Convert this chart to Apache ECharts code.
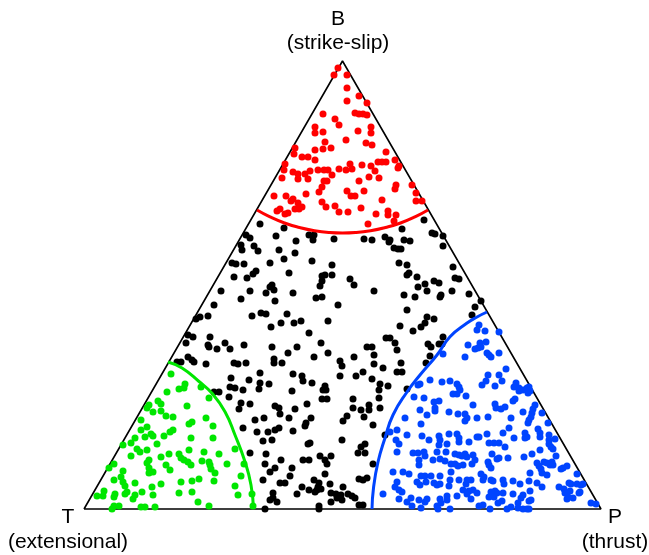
<!DOCTYPE html>
<html>
<head>
<meta charset="utf-8">
<script src="https://cdn.jsdelivr.net/npm/echarts@6/dist/echarts.min.js"></script>
<style>html,body{margin:0;padding:0;background:#fff;}#chart{width:649px;height:555px;}</style>
</head>
<body>
<div id="chart"></div>
<script>
// Ternary (Frohlich) diagram in triangle-plane units: T=(0,0), P=(517,0), B=(258.5,448)
var triangle = [[0,0],[517,0],[258.5,448],[0,0]];
var vertexLabels = [['B','(strike-slip)'],['T','(extensional)'],['P','(thrust)']];

var redPoints = [[254,441],[250,434],[263,434],[263,421],[275,413],[263,408],[283,406],[239,395],[271,396],[275,395],[279,395],[283,394],[251,390],[255,384],[231,382],[231,376],[239,377],[274,378],[287,382],[287,376],[262,369],
[241,367],[282,366],[288,364],[211,361],[210,355],[231,359],[239,360],[247,361],[302,357],[218,352],[224,352],[231,349],[266,345],[268,340],[278,344],[287,343],[294,347],[298,347],[302,347],[311,349],[315,343],[314,341],[291,338],[201,345],[200,339],[209,337],[214,335],[221,335],[226,338],[234,339],[240,339],[244,339],[255,340],[262,339],[248,334],[198,331],[214,330],[224,330],[240,328],[243,328],[238,322],[235,317],[275,328],[285,332],[295,331],[312,324],[311,320],[328,324],[263,318],[267,313],[271,313],[280,318],[222,315],[190,313],[202,313],[209,310],[207,308],[214,306],[238,307],[298,309],[332,316],[332,308],[338,308],[196,300],[193,298],[204,296],[201,295],[211,300],[215,300],[218,302],[242,302],[251,303],[255,297],[264,297],[277,301],[292,295],[304,298],[304,294],[312,294],[284,285],[310,288]];

var blackPoints = [[340,289],[176,285],[192,273],[200,281],[162,274],[166,271],[157,264],[158,259],[170,263],[174,258],[195,259],[200,250],[186,246],[148,246],[152,245],[160,245],[205,236],[172,238],[169,235],[150,232],[163,231],[137,218],[166,218],[188,224],[186,222],[190,219],[182,216],[191,208],[157,210],[130,204],[116,192],[112,190],[124,193],[168,193],[177,196],[182,195],[203,195],[197,186],[187,182],[104,174],[109,172],[102,166],[126,172],[124,164],[125,162],[133,160],[141,166],[146,160],[160,164],[188,162],[204,156],[93,147],[97,147],[104,152],[108,149],[110,147],[122,145],[150,146],[154,145],[162,146],[190,150],[190,146],[198,146],[130,117],[135,117],
[225,274],[230,274],[229,269],[212,268],[250,270],[280,270],[288,269],[301,272],[306,269],[305,267],[318,280],[320,269],[310,261],[314,260],[317,260],[211,256],[228,248],[248,244],[315,246],[241,234],[238,233],[248,234],[238,228],[236,223],[266,230],[270,224],[290,218],[209,216],[232,211],[238,212],[254,204],[210,186],[217,188],[244,188],[316,183],[225,176],[302,171],[306,171],[311,166],[313,159],[237,166],[213,162],[244,156],[230,152],[270,152],[283,162],[288,162],[290,154],[256,148],[290,145],[320,214],
[348,276],[351,275],[359,273],[359,263],[326,268],[323,244],[369,242],[325,236],[323,234],[333,232],[371,231],[375,230],[350,228],[355,226],[341,225],[334,222],[343,218],[368,218],[331,212],[357,214],[356,212],[385,215],[397,208],[391,202],[323,199],[388,194],[343,192],[350,190],[341,186],[337,182],[329,178],[359,172],[344,165],[347,162],[355,165],[358,165],[346,153],[342,146],[317,146],
[258,143],[147,131],[165,129],[176,136],[176,126],[175,120],[185,125],[209,135],[218,133],[219,128],[228,126],[256,133],[146,122],[151,121],[159,119],[145,112],[208,118],[241,123],[242,119],[239,119],[238,110],[243,110],[157,106],[155,100],[166,105],[191,103],[195,101],[211,100],[223,105],[196,95],[171,89],[180,91],[205,91],[227,91],[222,86],[221,83],[159,81],[173,77],[184,77],[191,79],[195,81],[209,78],[259,88],[179,68],[188,69],[224,65],[226,66],[258,69],[182,55],[166,56],[197,49],[219,49],[225,49],[236,53],[247,53],[241,49],[243,45],[181,45],[191,41],[208,41],[186,37],[206,33],[241,35],[179,29],[230,29],[196,26],[201,26],[235,26],[234,22],[237,20],[233,19],[231,17],[218,22],[225,19],[213,15],[246,25],[189,16],[189,11],[186,9],[193,7],[247,16],[252,15],[257,14],[253,11],[258,9],[247,7],[181,0],[235,3],[235,0],
[299,141],[313,137],[318,137],[279,137],[272,133],[288,130],[296,125],[295,119],[304,123],[323,120],[269,110],[295,111],[269,101],[277,99],[285,104],[285,99],[296,101],[280,92],[289,84],[263,93],[301,74],[281,65],[277,62],[274,56],[281,56],[289,45],[275,30],[283,31],[279,29],[259,22],[264,15],[268,13],[271,11],[275,4],[279,4]];

var greenPoints = [[87,135],[83,117],[95,120],[100,121],[101,125],[117,122],[125,111],[74,108],[77,105],[65,104],[63,101],[103,103],[69,97],[77,98],[82,93],[89,92],[57,89],[122,91],[108,87],[105,85],[63,82],[57,79],[129,83],[86,77],[89,79],[61,72],[67,75],[69,73],[80,73],[51,71],[107,71],[47,66],[73,65],[39,64],[53,60],[56,57],[63,59],[105,59],[120,57],[47,53],[77,52],[85,55],[95,55],[97,51],[100,49],[65,49],[63,46],[118,48],[125,47],[126,44],[30,45],[82,44],[86,39],[104,47],[107,44],[25,41],[39,38],[65,41],[65,36],[69,37],[127,40],[30,29],[37,32],[39,27],[41,23],[51,26],[77,25],[97,27],[108,28],[115,30],[130,28],[20,18],[68,22],[13,13],[19,13],[31,15],[30,12],[43,17],[41,15],[51,14],[49,10],[58,17],[69,14],[95,16],[108,17],[114,7],[30,3],[35,3],[28,0],[57,2],[61,2],[71,2],[125,3],[129,71],[135,55],[151,60],[143,45],[160,45],[131,36],[157,33],[151,23],[154,14],[168,15],[169,3]];

var bluePoints = [[395,184],[393,179],[401,178],[415,177],[384,164],[396,166],[397,162],[394,161],[391,160],[402,167],[403,156],[405,154],[407,152],[415,156],[381,152],[359,155],
[346,129],[358,127],[366,128],[373,125],[375,122],[376,119],[336,125],[334,124],[369,115],[373,115],[382,113],[330,112],[340,111],[350,107],[355,108],[351,101],[351,98],[336,99],[365,97],[374,95],[381,95],[383,91],[381,88],[389,104],[343,94],[321,91],[337,85],[313,79],[306,77],[323,74],[338,73],[365,75],[373,75],[375,71],[375,67],[355,73],[356,69],[355,64],[345,69],[312,69],[315,65],[385,67],[363,65],[313,57],[329,56],[334,56],[340,57],[341,53],[353,57],[362,57],[371,55],[375,54],[381,55],[378,53],[383,52],[335,49],[335,44],[349,49],[356,50],[361,48],[367,45],[371,45],[374,43],[379,44],[388,45],[309,37],[319,37],[325,35],[337,33],[341,33],[347,33],[356,33],[367,37],[366,29],[375,29],[383,29],[382,25],[313,27],[311,22],[315,19],[318,17],[333,27],[336,24],[342,27],[350,26],[353,24],[356,25],[365,23],[379,19],[385,18],[389,19],[299,15],[315,10],[327,11],[323,7],[335,9],[341,7],[343,10],[356,10],[357,6],[363,13],[363,9],[373,13],[383,15],[328,3],[337,1],[353,3],[354,0],[366,0],
[422,140],[404,134],[402,128],[398,124],[415,134],[418,128],[411,123],[432,126],[430,122],[435,121],[435,118],[439,119],[443,121],[445,122],[446,118],[444,116],[431,110],[429,108],[411,105],[412,101],[417,100],[421,102],[451,104],[449,100],[448,96],[447,92],[445,89],[439,97],[458,96],[393,91],[404,92],[427,91],[444,86],[464,86],[425,81],[454,80],[456,76],[456,72],[419,76],[430,71],[403,75],[393,72],[395,72],[441,76],[443,72],[441,71],[465,74],[465,69],[471,70],[405,66],[410,66],[415,66],[421,62],[465,65],[467,62],[469,60],[389,54],[391,49],[408,55],[415,51],[413,50],[424,51],[440,52],[448,55],[456,59],[472,53],[404,47],[405,44],[407,41],[397,35],[400,32],[399,29],[453,46],[455,43],[457,40],[458,36],[460,47],[463,46],[466,44],[468,47],[469,44],[463,34],[477,40],[479,41],[483,43],[446,36],[387,29],[409,28],[407,29],[419,29],[420,25],[429,28],[436,25],[445,28],[453,26],[458,22],[485,26],[487,25],[493,35],[493,25],[497,24],[499,25],[475,22],[480,20],[481,16],[483,16],[484,12],[483,10],[486,18],[496,17],[495,16],[489,11],[387,10],[393,16],[407,17],[411,18],[413,16],[408,14],[419,16],[405,12],[410,12],[429,15],[439,14],[437,11],[446,18],[447,9],[445,8],[418,8],[414,6],[434,6],[399,4],[395,3],[423,0],[427,2],[434,1],[439,0],[443,0],[445,0],[406,0],[507,6],[512,5]];

// Field boundaries
var redArc = [[173,299],[185.5,292.4],[200.5,286],[215.5,281.5],[230.5,278.3],[245.5,276.5],[258.5,276],[271.5,276.5],[286.5,278.3],[301.5,281.5],[316.5,286],[331.5,292.4],[344,299]];
var greenArc = [[84,147],[98,141],[115,127.5],[128,115.7],[141,97.3],[151,74],[161,47.3],[167,24],[169.5,0]];
var blueArc = [[403,197],[393,192],[382.7,185.7],[366,172.3],[353,154],[336,134],[323,117],[309,94],[301,71],[294,47],[289.5,21],[288,0]];

var chart = echarts.init(document.getElementById('chart'), null, {renderer: 'canvas'});
var FONT = '"Liberation Sans", Arial, Helvetica, sans-serif';
function pts(name, data, color) {
  return {type: 'scatter', name: name, data: data, symbol: 'circle', symbolSize: 7, clip: false,
    itemStyle: {color: color, opacity: 1}, z: 2, silent: true};
}
function arc(name, data, color) {
  return {type: 'line', name: name, data: data, smooth: true, symbol: 'none', clip: false,
    lineStyle: {color: color, width: 3}, z: 3, silent: true};
}
function label(text, x, y) {
  return {type: 'text', x: x, y: y, style: {text: text, font: '21px ' + FONT, fill: '#000', align: 'center', verticalAlign: 'middle'}};
}
chart.setOption({
  animation: false,
  backgroundColor: '#ffffff',
  grid: {left: 84, top: 61, width: 517, height: 448, containLabel: false},
  xAxis: {type: 'value', min: 0, max: 517, show: false},
  yAxis: {type: 'value', min: 0, max: 448, show: false},
  series: [
    {type: 'line', name: 'triangle', data: triangle, symbol: 'none', clip: false,
      lineStyle: {color: '#000', width: 1.6}, z: 1, silent: true},
    pts('black', blackPoints, '#000000'),
    pts('red', redPoints, '#ff0000'),
    pts('green', greenPoints, '#00e600'),
    pts('blue', bluePoints, '#0044ff'),
    arc('redArc', redArc, '#ff0000'),
    arc('greenArc', greenArc, '#00e600'),
    arc('blueArc', blueArc, '#0044ff')
  ],
  graphic: [
    label(vertexLabels[0][0], 338, 19),
    label(vertexLabels[0][1], 338, 43),
    label(vertexLabels[1][0], 68, 517),
    label(vertexLabels[1][1], 68, 542),
    label(vertexLabels[2][0], 615, 517),
    label(vertexLabels[2][1], 615, 542)
  ]
});
</script>
</body>
</html>
